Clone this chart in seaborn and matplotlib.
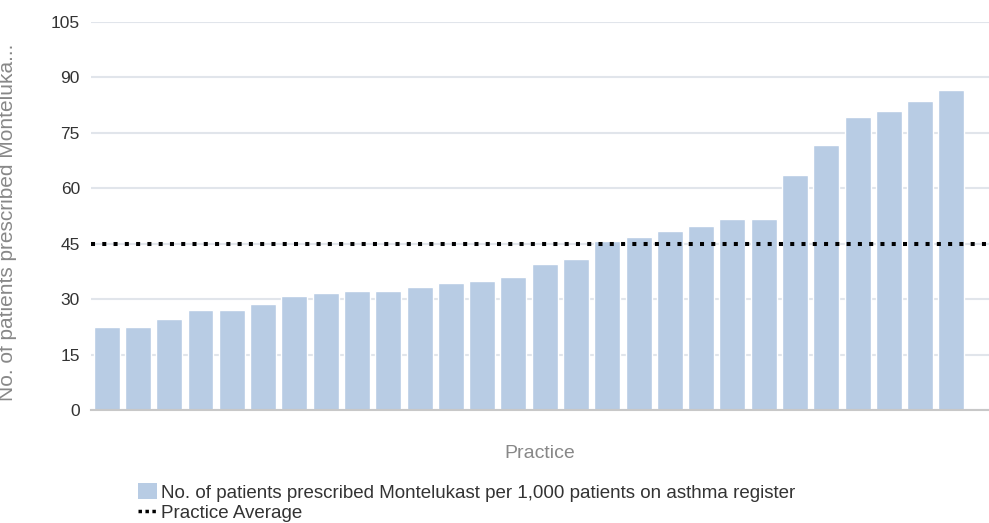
import numpy as np
import pandas as pd
import seaborn as sns
import matplotlib.pyplot as plt
from matplotlib.patches import Patch
from matplotlib.lines import Line2D

# values, sorted low to high
rate = [22.6, 22.6, 24.6, 27.2, 27.2, 28.7, 30.8, 31.8, 32.2, 32.2,
        33.2, 34.3, 34.8, 35.9, 39.5, 40.9, 45.8, 46.9, 48.4, 49.9,
        51.6, 51.6, 63.7, 71.8, 79.4, 80.9, 83.5, 86.6]
practice_avg = 45
y_ticks = [0, 15, 30, 45, 60, 75, 90, 105]
bar_label = "No. of patients prescribed Montelukast per 1,000 patients on asthma register"
avg_label = "Practice Average"

df = pd.DataFrame({"practice": [str(i) for i in range(len(rate))], "rate": rate})

sns.set_style("white")
plt.rcParams['font.family'] = ['Liberation Sans', 'DejaVu Sans']

fig = plt.figure(figsize=(9.89, 5.23), dpi=100)
ax = fig.add_axes([0.092, 0.216, 0.908, 0.742])

sns.barplot(data=df, x="practice", y="rate", color="#b8cce4", saturation=1,
            width=0.83, ax=ax, zorder=2)
ax.axhline(practice_avg, color="black", lw=2.9, linestyle=(0, (1, 1.8)), zorder=3)

ax.set_ylim(0, 105)
ax.set_yticks(y_ticks)
ax.set_xlim(-0.5, len(rate) + 0.2)
ax.yaxis.grid(True, color="#e1e5eb", lw=1.5, zorder=0)
ax.set_axisbelow(True)
ax.tick_params(axis="y", labelsize=12.5, labelcolor="#333333", length=0, pad=8)
ax.tick_params(axis="x", bottom=False, labelbottom=False)
for s in ["top", "right", "left"]:
    ax.spines[s].set_visible(False)
ax.spines["bottom"].set_color("#c8c8c8")
ax.spines["bottom"].set_linewidth(1.5)

ax.set_xlabel("Practice", fontsize=14, color="#888888", labelpad=25)
ax.set_ylabel("No. of patients prescribed Monteluka...", fontsize=15, color="#888888")
ax.yaxis.set_label_coords(-0.082, 0.485)

handles = [Patch(facecolor="#b8cce4", edgecolor="none"),
           Line2D([], [], color="black", lw=2.5, linestyle=(0, (1, 1)))]
fig.legend(handles, [bar_label, avg_label], loc="lower left",
           bbox_to_anchor=(0.132, -0.013), frameon=False, fontsize=13.5,
           labelcolor="#333333", handlelength=1.0, handleheight=0.95,
           handletextpad=0.25, labelspacing=0.12, borderaxespad=0)

fig.savefig("out.png", dpi=100)
